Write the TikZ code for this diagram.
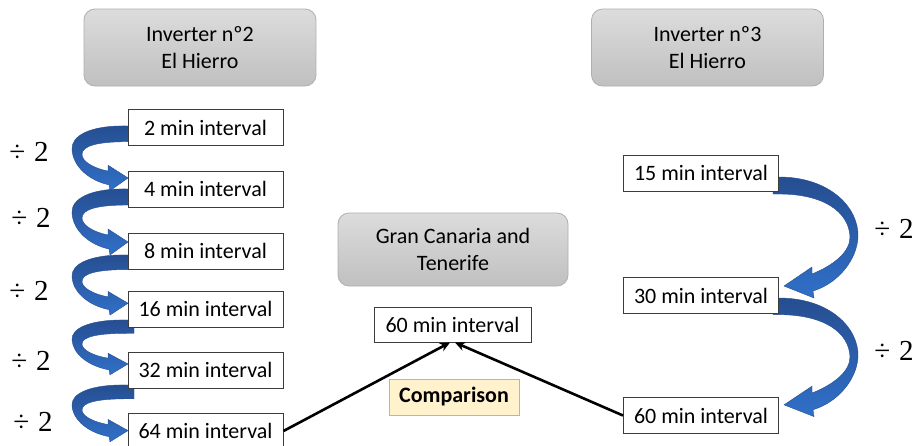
\documentclass[tikz,border=0pt]{standalone}
\usepackage{fontspec}
\setmainfont{Carlito}
\newfontfamily\divfont{Liberation Serif}
\usetikzlibrary{arrows.meta}
\definecolor{ribdark}{RGB}{38,78,145}
\definecolor{riblight}{RGB}{48,112,200}
\definecolor{hdrtop}{RGB}{220,220,220}
\definecolor{hdrbot}{RGB}{192,192,192}
\definecolor{hdrline}{RGB}{175,175,175}
\definecolor{cmpfill}{RGB}{255,242,204}
\definecolor{cmpline}{RGB}{190,180,160}
\definecolor{boxline}{RGB}{60,60,60}
\tikzset{
 ibox/.style={draw=boxline, line width=1pt, fill=white, minimum width=155pt, minimum height=36pt, inner sep=0pt, font=\fontsize{22}{26}\selectfont},
 hdr/.style={draw=hdrline, line width=0.8pt, rounded corners=11pt, top color=hdrtop, bottom color=hdrbot, minimum width=232pt, align=center, inner sep=0pt, font=\fontsize{22}{27}\selectfont},
 divlbl/.style={inner sep=0pt, font=\divfont\fontsize{29}{30}\selectfont},
 ribbon/.style={top color=ribdark, bottom color=riblight, draw=ribdark, line width=0.4pt},
 link/.style={line width=2.6pt, -{Stealth[length=10pt,width=9pt]}},
}
\newcommand{\leftribbon}[2]{%
 \begin{scope}[shift={(128,#1)}, xscale=-1, yscale=#2]
 \path[ribbon] (-6,0) -- (0,0) .. controls (38,-1) and (57,10) .. (56,24) .. controls (55,42) and (38,56) .. (19,60) -- (18,66) -- (0,53) -- (20,40) -- (20,46) .. controls (35,43) and (46,36) .. (46,29) .. controls (46,20) and (30,16) .. (0,16) -- (-6,16) -- cycle;
 \end{scope}}
\newcommand{\rightribbon}[2]{%
 \begin{scope}[shift={(779,#1)}, yscale=#2]
 \path[ribbon] (-6,0) -- (0,0) .. controls (50,0) and (80,30) .. (79,60) .. controls (78,82) and (60,106) .. (34,114) -- (35,121) -- (5,109) -- (33,90) -- (33,97) .. controls (55,88) and (71,75) .. (71,60) .. controls (70,35) and (45,17) .. (0,17) -- (-6,17) -- cycle;
 \end{scope}}
\newcommand{\divtwo}{÷\hspace{9pt}2}
\begin{document}
\begin{tikzpicture}[x=1pt,y=-1pt]
\fill[white] (0,0) rectangle (915,445);
\useasboundingbox (0,0) rectangle (915,445);

% ribbons
\leftribbon{126}{0.98}
\leftribbon{189}{1.0}
\leftribbon{255}{0.91}
\leftribbon{320}{0.83}
\leftribbon{385}{0.86}
\rightribbon{177}{1.0}
\rightribbon{298}{0.98}

% headers
\node[hdr, minimum height=77pt] (h2) at (200,47.5) {Inverter nº2\\El Hierro};
\node[hdr, minimum height=77pt] (h3) at (707.5,47.5) {Inverter nº3\\El Hierro};
\node[hdr, minimum width=230pt, minimum height=73pt] (gc) at (453,249.5) {Gran Canaria and\\Tenerife};

% left column
\node[ibox] (l2) at (205.5,127.5) {2 min interval};
\node[ibox] (l4) at (205.5,189) {4 min interval};
\node[ibox] (l8) at (205.5,251) {8 min interval};
\node[ibox] (l16) at (205.5,309) {16 min interval};
\node[ibox] (l32) at (205.5,370) {32 min interval};
\node[ibox] (l64) at (205.5,431) {64 min interval};

% right column
\node[ibox] (r15) at (701,173) {15 min interval};
\node[ibox] (r30) at (701,295.5) {30 min interval};
\node[ibox] (r60) at (701,415.5) {60 min interval};

% centre
\node[ibox, minimum width=157pt, minimum height=35pt] (c60) at (452.5,324.5) {60 min interval};
\node[draw=cmpline, line width=0.8pt, fill=cmpfill, minimum width=130pt, minimum height=36pt, inner sep=0pt, font=\bfseries\fontsize{22}{26}\selectfont] (cmp) at (454,397) {Comparison};

% division labels
\node[divlbl] (d1) at (29,152) {\divtwo};
\node[divlbl] (d2) at (31,218) {\divtwo};
\node[divlbl] (d3) at (29,291) {\divtwo};
\node[divlbl] (d4) at (31,361) {\divtwo};
\node[divlbl] (d5) at (33,422) {\divtwo};
\node[divlbl] (d6) at (894,229) {\divtwo};
\node[divlbl] (d7) at (894,351) {\divtwo};

% connectors
\draw[link] (l64.east) -- ([xshift=-2.5pt]c60.south);
\draw[link] (r60.west) -- ([xshift=2.5pt]c60.south);
\end{tikzpicture}
\end{document}
